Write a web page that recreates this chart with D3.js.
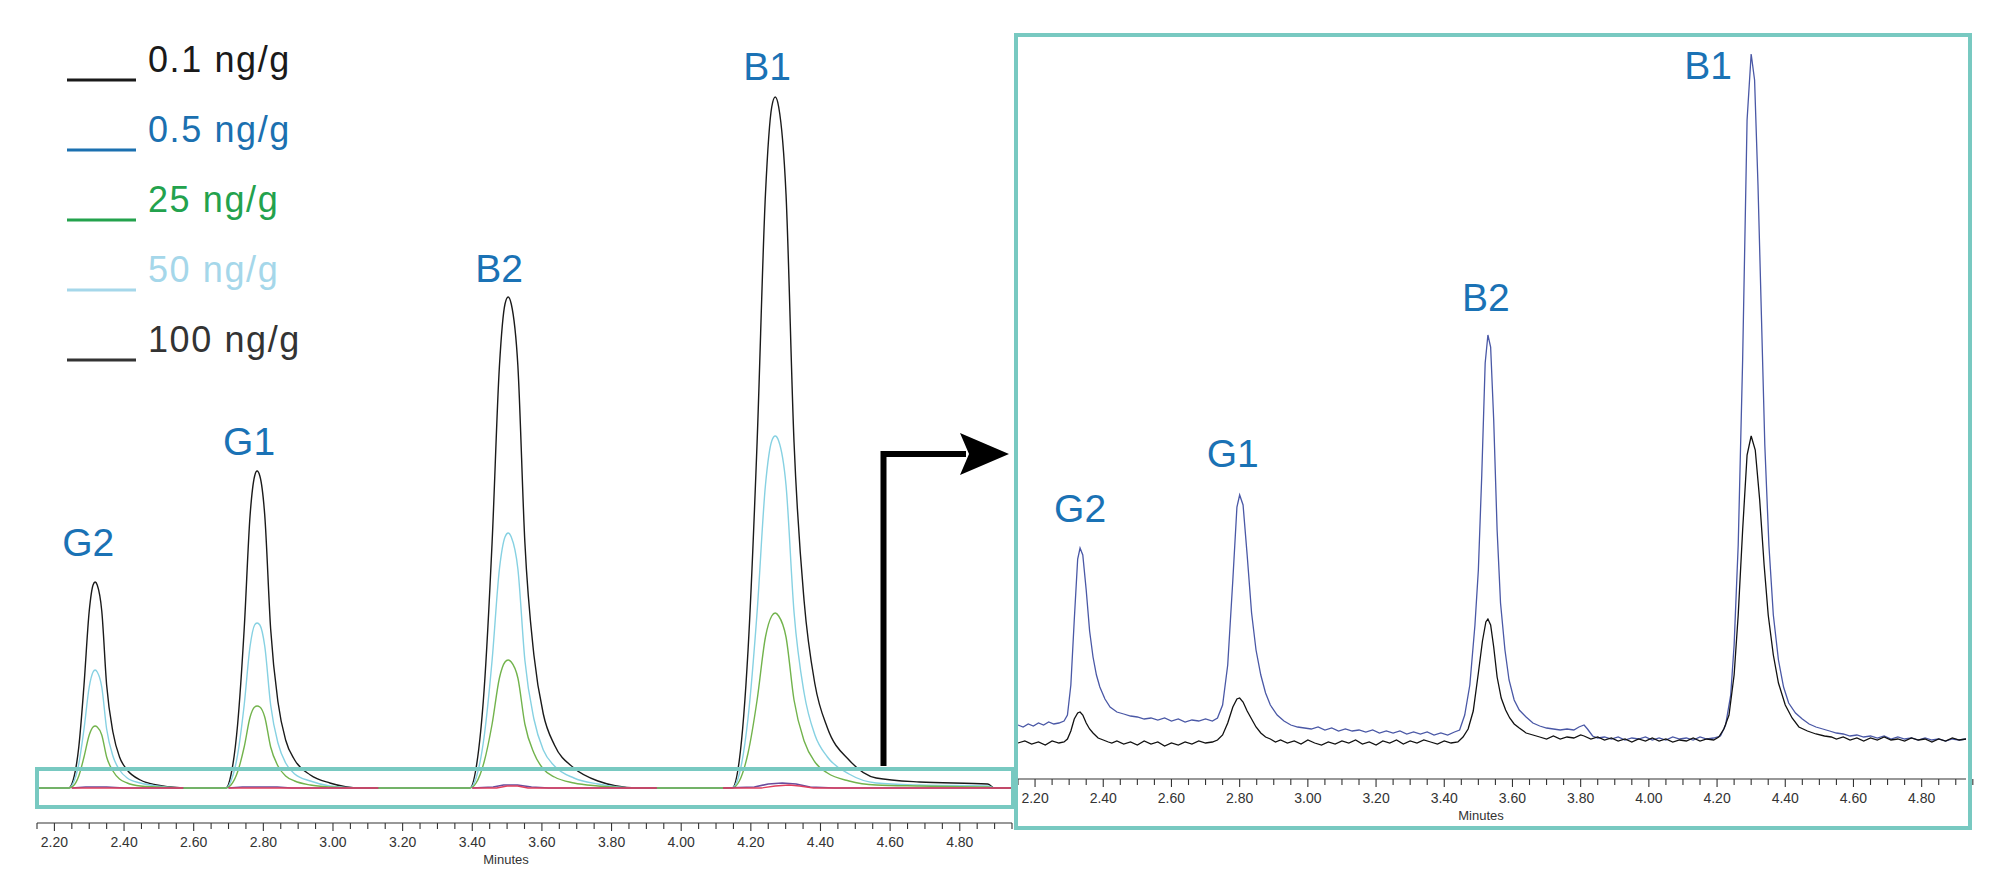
<!DOCTYPE html>
<html><head><meta charset="utf-8">
<script src="https://cdn.jsdelivr.net/npm/d3@7"></script>
<style>
body{margin:0;background:#fff;}
svg{display:block;font-family:"Liberation Sans",Arial,sans-serif;}
</style>
</head><body>
<svg id="c" width="2000" height="894"></svg>
<script>
// ---------------- DATA ----------------
const peakNames = ["G2", "G1", "B2", "B1"];
const legendLabels = ["0.1 ng/g", "0.5 ng/g", "25 ng/g", "50 ng/g", "100 ng/g"];
const tickLabels = ["2.20","2.40","2.60","2.80","3.00","3.20","3.40","3.60","3.80","4.00","4.20","4.40","4.60","4.80"];

// main chromatogram (minutes) shared time grid
const leftTimes = [2.15,
 2.241,2.254,2.270,2.285,2.300,2.311,2.317,2.323,2.336,2.350,2.368,2.387,2.409,2.447,2.494,2.570,
 2.693,2.707,2.726,2.745,2.762,2.775,2.782,2.790,2.804,2.821,2.842,2.864,2.890,2.935,2.991,3.080,
 3.393,3.411,3.434,3.457,3.478,3.494,3.503,3.512,3.531,3.551,3.577,3.604,3.636,3.692,3.761,3.871,
 4.146,4.167,4.192,4.218,4.242,4.260,4.270,4.280,4.301,4.324,4.353,4.384,4.420,4.482,4.560,4.684,4.880,4.900,
 4.95];
const conc100 = [0,
 0,8,41,103,177,203,206,203,177,103,56,31,18,8,3,0,
 0,13,63,159,273,312,317,312,273,159,86,48,28,13,5,0,
 0,20,98,246,422,484,491,484,422,246,133,74,43,20,7,0,
 0,28,138,346,594,681,691,681,594,346,187,104,60,28,10,6,4,0,
 0];
const conc50 = [0,
 0,5,24,59,101,116,118,116,101,59,32,18,10,5,2,0,
 0,7,33,83,142,163,165,163,142,83,45,25,14,7,2,0,
 0,10,51,128,219,251,255,251,219,128,69,38,22,10,4,0,
 0,14,70,176,303,347,352,347,303,176,95,53,31,14,5,3,2,0,
 0];
const conc25 = [0,
 0,2,12,31,53,61,62,61,53,31,17,9,5,2,1,0,
 0,3,16,41,71,81,82,81,71,41,22,12,7,3,1,0,
 0,5,26,64,110,126,128,126,110,64,35,19,11,5,2,0,
 0,7,35,88,151,172,175,172,151,88,47,26,15,7,3,2,1,0,
 0];
// low-level traces in the main chromatogram (null = gap between windows)
const conc05Main = [[2.25,0],[2.29,1],[2.35,1],[2.40,0],[2.57,0],null,
 [2.70,0],[2.74,1],[2.84,1],[2.88,0],[3.13,0],null,
 [3.40,0],[3.46,1],[3.49,3],[3.53,3],[3.57,1],[3.62,0],[3.93,0],null,
 [4.12,0],[4.21,1],[4.25,4],[4.29,5],[4.33,4],[4.37,1],[4.44,0],[4.95,0]];
const conc01Main = [[2.25,0],[2.57,0],null,[2.70,0],[3.13,0],null,
 [3.40,0],[3.47,0],[3.50,2],[3.53,2],[3.56,0],[3.93,0],null,
 [4.12,0],[4.23,0],[4.27,2],[4.31,3],[4.34,2],[4.38,0],[4.95,0]];

const peakTimesMain = [2.317, 2.782, 3.503, 4.270];
const peakHeightsMain = [206, 317, 491, 691];

// zoomed inset: 0.5 ng/g (blue) and 0.1 ng/g (black)
const inset05 = [
 [2.15,20],[2.165,18],[2.18,21],[2.195,19],[2.21,22],[2.225,20],[2.24,23],[2.255,21],[2.27,22],[2.285,24],
 [2.295,30],[2.305,60],[2.315,125],[2.325,186],[2.332,197],[2.34,190],[2.35,155],[2.36,114],[2.37,88],[2.38,70],[2.39,58],[2.405,46],[2.42,38],[2.44,33],[2.46,31],[2.48,29],
 [2.50,28],[2.52,26],[2.54,27],[2.56,25],[2.58,27],[2.60,24],[2.62,26],[2.64,23],[2.66,25],[2.68,24],[2.70,26],[2.72,24],[2.735,27],
 [2.75,40],[2.765,80],[2.78,165],[2.792,238],[2.80,250],[2.81,240],[2.822,190],[2.835,132],[2.848,95],[2.862,70],[2.876,52],[2.89,40],[2.91,30],[2.93,24],[2.95,20],[2.97,18],
 [2.99,17],[3.01,16],[3.03,18],[3.05,15],[3.07,17],[3.09,14],[3.11,16],[3.13,14],[3.15,15],[3.17,13],[3.19,15],[3.21,12],[3.23,14],[3.25,12],[3.27,14],[3.29,11],[3.31,13],[3.33,11],[3.35,13],[3.37,10],[3.39,12],[3.41,10],[3.43,13],[3.445,15],
 [3.46,30],[3.475,60],[3.49,120],[3.50,175],[3.51,270],[3.52,382],[3.528,410],[3.536,398],[3.545,325],[3.555,215],[3.565,142],[3.578,95],[3.59,65],[3.605,45],[3.62,35],[3.64,28],[3.66,22],[3.68,19],[3.70,17],
 [3.72,16],[3.74,15],[3.76,16],[3.78,15],[3.795,18],[3.81,20],[3.82,16],[3.835,9],[3.85,7],[3.87,8],[3.89,6],[3.91,8],[3.93,5],[3.95,7],[3.97,6],[3.99,8],[4.01,5],[4.03,7],[4.05,5],[4.07,8],[4.09,6],[4.11,7],[4.13,5],[4.15,8],[4.17,6],[4.19,7],[4.21,9],
 [4.225,20],[4.24,50],[4.25,100],[4.262,200],[4.275,385],[4.288,625],[4.30,691],[4.31,665],[4.32,560],[4.33,430],[4.34,300],[4.352,200],[4.365,130],[4.38,85],[4.395,58],[4.41,42],[4.43,32],[4.45,26],[4.47,21],[4.49,18],[4.51,16],[4.53,14],[4.55,12],
 [4.57,11],[4.59,9],[4.61,10],[4.63,8],[4.65,9],[4.67,7],[4.69,9],[4.71,6],[4.73,8],[4.75,6],[4.77,7],[4.79,5],[4.81,7],[4.83,5],[4.85,6],[4.87,4],[4.89,6],[4.91,5],[4.93,6]
];
const inset01 = [
 [2.15,2],[2.17,4],[2.19,1],[2.21,3],[2.23,0],[2.25,4],[2.27,2],[2.285,3],
 [2.295,6],[2.305,14],[2.315,26],[2.325,32],[2.332,33],[2.34,30],[2.35,22],[2.36,16],[2.37,12],[2.385,7],[2.40,5],[2.415,3],[2.425,2],
 [2.44,4],[2.46,1],[2.48,3],[2.50,0],[2.52,4],[2.54,1],[2.56,3],[2.58,-1],[2.60,2],[2.62,0],[2.64,3],[2.66,1],[2.68,4],[2.70,2],[2.72,3],[2.735,5],
 [2.75,10],[2.765,22],[2.78,38],[2.792,46],[2.80,47],[2.81,43],[2.822,34],[2.835,26],[2.848,18],[2.862,12],[2.876,8],[2.89,6],[2.905,3],
 [2.92,5],[2.94,2],[2.96,4],[2.98,1],[3.00,5],[3.02,2],[3.04,0],[3.06,3],[3.08,1],[3.10,4],[3.12,2],[3.14,5],[3.16,1],[3.18,3],[3.20,0],[3.22,4],[3.24,2],[3.26,5],[3.28,1],[3.30,4],[3.32,2],[3.34,5],[3.36,3],[3.38,1],[3.40,4],[3.42,2],[3.44,3],
 [3.455,8],[3.47,16],[3.485,34],[3.50,72],[3.512,104],[3.522,123],[3.528,126],[3.536,120],[3.545,98],[3.555,68],[3.567,47],[3.58,35],[3.592,27],[3.605,21],[3.62,17],[3.64,12],[3.66,10],
 [3.68,8],[3.70,6],[3.72,9],[3.74,6],[3.76,8],[3.78,7],[3.80,10],[3.81,9],[3.83,6],[3.85,8],[3.87,5],[3.89,7],[3.91,4],[3.93,6],[3.95,3],[3.97,6],[3.99,4],[4.01,7],[4.03,4],[4.05,6],[4.07,3],[4.09,5],[4.11,4],[4.13,7],[4.15,4],[4.17,6],[4.19,5],
 [4.205,8],[4.22,16],[4.235,30],[4.25,70],[4.262,130],[4.275,215],[4.288,290],[4.30,309],[4.312,295],[4.325,245],[4.338,180],[4.35,130],[4.365,90],[4.38,62],[4.40,40],[4.42,27],[4.44,18],[4.465,14],[4.49,11],[4.515,9],[4.535,8],
 [4.55,6],[4.57,8],[4.59,5],[4.61,7],[4.63,4],[4.65,7],[4.67,5],[4.69,8],[4.71,5],[4.73,6],[4.75,4],[4.77,7],[4.79,5],[4.81,6],[4.83,3],[4.85,6],[4.87,4],[4.89,7],[4.91,5],[4.93,6]
];
const peakTimesInset = [2.332, 2.80, 3.528, 4.30];
const peakHeightsInset = [197, 250, 410, 691];

// ---------------- STYLE / LAYOUT ----------------
const legendColors = ["#1a1a1a", "#1b70b0", "#23a24d", "#a5d7ea", "#333333"];
const labelColor = "#1a72b5";
const teal = "#78c9c1";
const C100 = "#1a1a1a", C50 = "#86d1e2", C25 = "#72b34c", C05 = "#6a4c9c", C01 = "#e0405e";
const insetBlue = "#4a58a6", insetBlack = "#111111";

const svg = d3.select("#c");
const xL = d3.scaleLinear().domain([2.15, 4.95]).range([37, 1012]);
const yL = d3.scaleLinear().domain([0, 700]).range([788, 88]);
const xI = d3.scaleLinear().domain([2.15, 4.93]).range([1018, 1966]);
const yI = d3.scaleLinear().domain([0, 700]).range([745, 45]);

// ---------- legend ----------
const lg = svg.append("g");
legendLabels.forEach((lab, i) => {
  lg.append("line").attr("x1", 67).attr("x2", 136).attr("y1", 80 + 70 * i).attr("y2", 80 + 70 * i)
    .attr("stroke", legendColors[i]).attr("stroke-width", 3);
  lg.append("text").attr("x", 148).attr("y", 72 + 70 * i).attr("font-size", 36)
    .attr("letter-spacing", 1.6).attr("fill", legendColors[i]).text(lab);
});

// ---------- main chromatogram ----------
const lineMain = d3.line().x((d) => xL(d[0])).y((d) => yL(d[1])).curve(d3.curveMonotoneX);
const lineMainSeg = d3.line().defined((d) => d !== null).x((d) => xL(d[0])).y((d) => yL(d[1]));
const zipL = (vals) => leftTimes.map((t, i) => [t, vals[i]]);

const g = svg.append("g");
[[conc100, C100], [conc50, C50], [conc25, C25]].forEach(([vals, col]) => {
  g.append("path").attr("d", lineMain(zipL(vals))).attr("fill", "none")
    .attr("stroke", col).attr("stroke-width", 1.4);
});
g.append("path").attr("d", lineMainSeg(conc05Main)).attr("fill", "none").attr("stroke", C05).attr("stroke-width", 1.6);
g.append("path").attr("d", lineMainSeg(conc01Main)).attr("fill", "none").attr("stroke", C01).attr("stroke-width", 1.4);

// peak labels main
const mainLabelDx = [-7, -8, -9, -8], mainLabelDy = [-40, -30, -29, -31];
peakNames.forEach((n, i) => {
  g.append("text").attr("x", xL(peakTimesMain[i]) + mainLabelDx[i])
    .attr("y", yL(peakHeightsMain[i]) + mainLabelDy[i])
    .attr("text-anchor", "middle").attr("dominant-baseline", "central")
    .attr("font-size", 39).attr("fill", labelColor).text(n);
});

// axis helper
function drawAxis(x, y0, minutesX, minutesY) {
  const ax = svg.append("g").attr("transform", `translate(0,${y0})`);
  const [d0, d1] = x.domain();
  const minor = d3.range(Math.round(d0 * 20), Math.round(d1 * 20) + 1).map((k) => k / 20);
  const major = tickLabels.map(Number);
  ax.append("line").attr("x1", x.range()[0]).attr("x2", x.range()[1]).attr("stroke", "#333").attr("stroke-width", 1.2);
  ax.selectAll("line.mn").data(minor).join("line").attr("class", "mn")
    .attr("x1", (d) => x(d)).attr("x2", (d) => x(d)).attr("y1", 0)
    .attr("y2", (d) => major.some((m) => Math.abs(m - d) < 1e-6) ? 8 : 6)
    .attr("stroke", "#333").attr("stroke-width", 1.1);
  ax.selectAll("text.tl").data(tickLabels).join("text").attr("class", "tl")
    .attr("x", (d) => x(+d)).attr("y", 24).attr("text-anchor", "middle")
    .attr("font-size", 14).attr("fill", "#333").text((d) => d);
  svg.append("text").attr("x", minutesX).attr("y", minutesY).attr("text-anchor", "middle")
    .attr("font-size", 13).attr("fill", "#333").text("Minutes");
}
drawAxis(xL, 823, 506, 864);

// highlight box in main
svg.append("rect").attr("x", 37).attr("y", 769).attr("width", 976).attr("height", 38)
  .attr("fill", "none").attr("stroke", teal).attr("stroke-width", 4);

// arrow
svg.append("path").attr("d", "M883.5,766 V454 H966").attr("fill", "none").attr("stroke", "#000").attr("stroke-width", 6);
svg.append("path").attr("d", "M960,433 L1009,454 L960,475 L969,454 Z").attr("fill", "#000");

// ---------- inset ----------
const lineInset = d3.line().x((d) => xI(d[0])).y((d) => yI(d[1]));
const gi = svg.append("g");
gi.append("path").attr("d", lineInset(inset05)).attr("fill", "none").attr("stroke", insetBlue).attr("stroke-width", 1.3);
gi.append("path").attr("d", lineInset(inset01)).attr("fill", "none").attr("stroke", insetBlack).attr("stroke-width", 1.3);

const insetLabelDx = [0, -7, -2, -43], insetLabelDy = [-40, -42, -38, 11];
peakNames.forEach((n, i) => {
  gi.append("text").attr("x", xI(peakTimesInset[i]) + insetLabelDx[i])
    .attr("y", yI(peakHeightsInset[i]) + insetLabelDy[i])
    .attr("text-anchor", "middle").attr("dominant-baseline", "central")
    .attr("font-size", 39).attr("fill", labelColor).text(n);
});
drawAxis(xI, 779, 1481, 820);

svg.append("rect").attr("x", 1016).attr("y", 35).attr("width", 954).attr("height", 793)
  .attr("fill", "none").attr("stroke", teal).attr("stroke-width", 4);
</script>
</body></html>
